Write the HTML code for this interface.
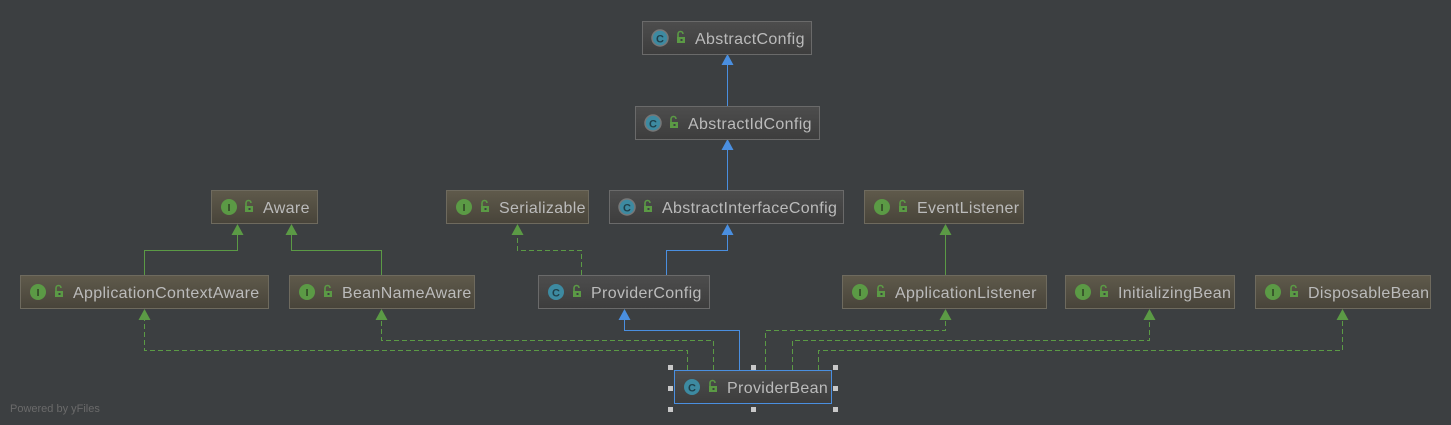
<!DOCTYPE html>
<html><head><meta charset="utf-8"><style>
html,body{margin:0;padding:0;background:#3c3f41;}
svg{display:block;}
text{font-family:"Liberation Sans","DejaVu Sans",sans-serif;}
.t{font-size:16px;letter-spacing:0.35px;}
</style></head><body>
<svg width="1451" height="425" viewBox="0 0 1451 425" xmlns="http://www.w3.org/2000/svg">
<defs>
<linearGradient id="gi" x1="0" y1="0" x2="0" y2="1"><stop offset="0" stop-color="#5f5a4b"/><stop offset="1" stop-color="#48443a"/></linearGradient>
<linearGradient id="gc" x1="0" y1="0" x2="0" y2="1"><stop offset="0" stop-color="#4d4d4d"/><stop offset="1" stop-color="#3d3d3d"/></linearGradient>
<g id="lock"><rect x="-3" y="-1" width="8" height="6" fill="#5b9a45"/><path d="M-2,-1 v-3 a2.5,2.5 0 0 1 5,0" fill="none" stroke="#5b9a45" stroke-width="1.6"/><rect x="0.5" y="1" width="2" height="2" fill="#3c3f41"/></g>
</defs>
<rect width="1451" height="425" fill="#3c3f41"/>

<g fill="none" stroke-width="1">
<path d="M727.5,106 V62" stroke="#4a8fe0"/>
<path d="M727.5,190 V147" stroke="#4a8fe0"/>
<path d="M666.5,275 V250.5 H727.5 V232" stroke="#4a8fe0"/>
<path d="M739.5,370 V330.5 H624.5 V317" stroke="#4a8fe0"/>
<path d="M144.5,275 V250.5 H237.5 V232" stroke="#5b9a45"/>
<path d="M381.5,275 V250.5 H291.5 V232" stroke="#5b9a45"/>
<path d="M945.5,275 V232" stroke="#5b9a45"/>
<g stroke="#5b9a45" stroke-dasharray="5,3">
<path d="M581.5,275 V250.5 H517.5 V232"/>
<path d="M687.5,370 V350.5 H144.5 V317"/>
<path d="M713.5,370 V340.5 H381.5 V317"/>
<path d="M765.5,370 V330.5 H945.5 V317"/>
<path d="M792.5,370 V340.5 H1149.5 V317"/>
<path d="M818.5,370 V350.5 H1342.5 V317"/>
</g>
</g>
<g fill="#4a8fe0">
<path d="M727.5,54 l-6,11 h12z"/>
<path d="M727.5,139 l-6,11 h12z"/>
<path d="M727.5,224 l-6,11 h12z"/>
<path d="M624.5,309 l-6,11 h12z"/>
</g>
<g fill="#5b9a45">
<path d="M237.5,224 l-6,11 h12z"/>
<path d="M291.5,224 l-6,11 h12z"/>
<path d="M517.5,224 l-6,11 h12z"/>
<path d="M945.5,224 l-6,11 h12z"/>
<path d="M144.5,309 l-6,11 h12z"/>
<path d="M381.5,309 l-6,11 h12z"/>
<path d="M945.5,309 l-6,11 h12z"/>
<path d="M1149.5,309 l-6,11 h12z"/>
<path d="M1342.5,309 l-6,11 h12z"/>
</g>

<g fill="#bbbbbb">
<g>
<rect x="642.5" y="21.5" width="169" height="33" fill="url(#gc)" stroke="#6a6a6a"/>
<circle cx="660" cy="38" r="8" fill="#3d8aa1" stroke="#777" stroke-width="1.5"/><text x="660" y="42.5" font-size="11" font-weight="bold" text-anchor="middle" fill="#1f3f4a">C</text>
<use href="#lock" x="680" y="38"/><text class="t" x="695" y="44">AbstractConfig</text>
</g>
<g>
<rect x="635.5" y="106.5" width="184" height="33" fill="url(#gc)" stroke="#6a6a6a"/>
<circle cx="653" cy="123" r="8" fill="#3d8aa1" stroke="#777" stroke-width="1.5"/><text x="653" y="127.5" font-size="11" font-weight="bold" text-anchor="middle" fill="#1f3f4a">C</text>
<use href="#lock" x="673" y="123"/><text class="t" x="688" y="129">AbstractIdConfig</text>
</g>
<g>
<rect x="609.5" y="190.5" width="234" height="33" fill="url(#gc)" stroke="#6a6a6a"/>
<circle cx="627" cy="207" r="8" fill="#3d8aa1" stroke="#777" stroke-width="1.5"/><text x="627" y="211.5" font-size="11" font-weight="bold" text-anchor="middle" fill="#1f3f4a">C</text>
<use href="#lock" x="647" y="207"/><text class="t" x="662" y="213">AbstractInterfaceConfig</text>
</g>
<g>
<rect x="538.5" y="275.5" width="171" height="33" fill="url(#gc)" stroke="#6a6a6a"/>
<circle cx="556" cy="292" r="8" fill="#3d8aa1"/><text x="556" y="296.5" font-size="11" font-weight="bold" text-anchor="middle" fill="#1f3f4a">C</text>
<use href="#lock" x="576" y="292"/><text class="t" x="591" y="298">ProviderConfig</text>
</g>
<g>
<rect x="674.5" y="370.5" width="157" height="33" fill="url(#gc)" stroke="#4a8fe0"/>
<circle cx="692" cy="387" r="8" fill="#3d8aa1"/><text x="692" y="391.5" font-size="11" font-weight="bold" text-anchor="middle" fill="#1f3f4a">C</text>
<use href="#lock" x="712" y="387"/><text class="t" x="727" y="393">ProviderBean</text>
</g>

<g>
<rect x="211.5" y="190.5" width="106" height="33" fill="url(#gi)" stroke="#6e6a5e"/>
<circle cx="229" cy="207" r="8" fill="#5b9a45"/><text x="229" y="211" font-size="10" font-weight="bold" text-anchor="middle" fill="#2c3f22" font-family="Liberation Serif">I</text>
<use href="#lock" x="248" y="207"/><text class="t" x="263" y="213">Aware</text>
</g>
<g>
<rect x="446.5" y="190.5" width="142" height="33" fill="url(#gi)" stroke="#6e6a5e"/>
<circle cx="464" cy="207" r="8" fill="#5b9a45"/><text x="464" y="211" font-size="10" font-weight="bold" text-anchor="middle" fill="#2c3f22" font-family="Liberation Serif">I</text>
<use href="#lock" x="484" y="207"/><text class="t" x="499" y="213">Serializable</text>
</g>
<g>
<rect x="864.5" y="190.5" width="159" height="33" fill="url(#gi)" stroke="#6e6a5e"/>
<circle cx="882" cy="207" r="8" fill="#5b9a45"/><text x="882" y="211" font-size="10" font-weight="bold" text-anchor="middle" fill="#2c3f22" font-family="Liberation Serif">I</text>
<use href="#lock" x="902" y="207"/><text class="t" x="917" y="213">EventListener</text>
</g>
<g>
<rect x="20.5" y="275.5" width="248" height="33" fill="url(#gi)" stroke="#6e6a5e"/>
<circle cx="38" cy="292" r="8" fill="#5b9a45"/><text x="38" y="296" font-size="10" font-weight="bold" text-anchor="middle" fill="#2c3f22" font-family="Liberation Serif">I</text>
<use href="#lock" x="58" y="292"/><text class="t" x="73" y="298">ApplicationContextAware</text>
</g>
<g>
<rect x="289.5" y="275.5" width="185" height="33" fill="url(#gi)" stroke="#6e6a5e"/>
<circle cx="307" cy="292" r="8" fill="#5b9a45"/><text x="307" y="296" font-size="10" font-weight="bold" text-anchor="middle" fill="#2c3f22" font-family="Liberation Serif">I</text>
<use href="#lock" x="327" y="292"/><text class="t" x="342" y="298">BeanNameAware</text>
</g>
<g>
<rect x="842.5" y="275.5" width="204" height="33" fill="url(#gi)" stroke="#6e6a5e"/>
<circle cx="860" cy="292" r="8" fill="#5b9a45"/><text x="860" y="296" font-size="10" font-weight="bold" text-anchor="middle" fill="#2c3f22" font-family="Liberation Serif">I</text>
<use href="#lock" x="880" y="292"/><text class="t" x="895" y="298">ApplicationListener</text>
</g>
<g>
<rect x="1065.5" y="275.5" width="169" height="33" fill="url(#gi)" stroke="#6e6a5e"/>
<circle cx="1083" cy="292" r="8" fill="#5b9a45"/><text x="1083" y="296" font-size="10" font-weight="bold" text-anchor="middle" fill="#2c3f22" font-family="Liberation Serif">I</text>
<use href="#lock" x="1103" y="292"/><text class="t" x="1118" y="298">InitializingBean</text>
</g>
<g>
<rect x="1255.5" y="275.5" width="175" height="33" fill="url(#gi)" stroke="#6e6a5e"/>
<circle cx="1273" cy="292" r="8" fill="#5b9a45"/><text x="1273" y="296" font-size="10" font-weight="bold" text-anchor="middle" fill="#2c3f22" font-family="Liberation Serif">I</text>
<use href="#lock" x="1293" y="292"/><text class="t" x="1308" y="298">DisposableBean</text>
</g>
</g>

<g fill="#c8c8c8">
<rect x="668" y="365" width="5" height="5"/><rect x="751" y="365" width="5" height="5"/><rect x="833" y="365" width="5" height="5"/>
<rect x="668" y="386" width="5" height="5"/><rect x="833" y="386" width="5" height="5"/>
<rect x="668" y="407" width="5" height="5"/><rect x="751" y="407" width="5" height="5"/><rect x="833" y="407" width="5" height="5"/>
</g>

<text x="10" y="412" font-size="11" fill="#6a6a6a">Powered by yFiles</text>
</svg>
</body></html>
